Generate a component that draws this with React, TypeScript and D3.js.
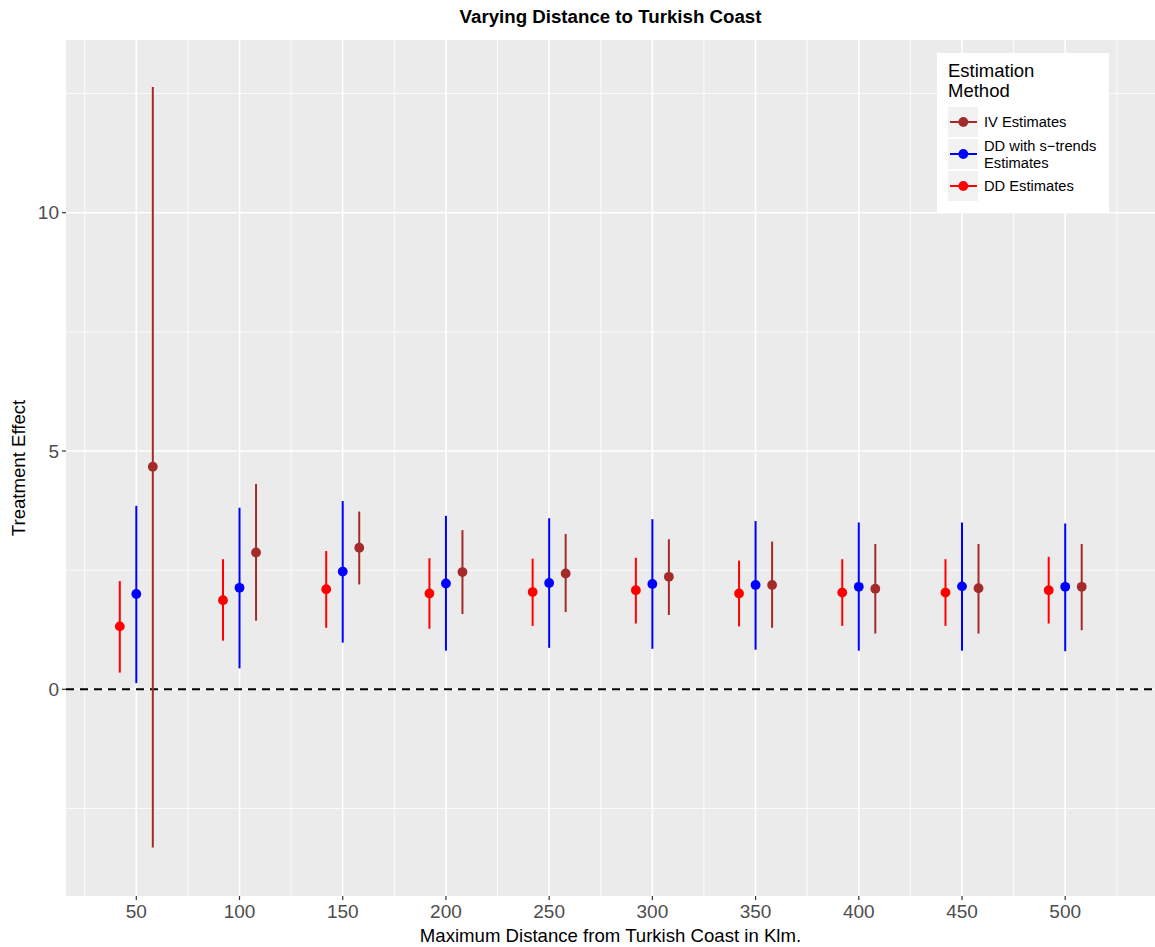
import React from "react";
import * as d3 from "d3";

const distances = [50, 100, 150, 200, 250, 300, 350, 400, 450, 500];
const ddEst = [1.32, 1.87, 2.1, 2.01, 2.04, 2.08, 2.01, 2.03, 2.03, 2.08];
const ddLo = [0.35, 1.02, 1.29, 1.27, 1.33, 1.38, 1.32, 1.33, 1.33, 1.38];
const ddHi = [2.27, 2.73, 2.9, 2.75, 2.74, 2.76, 2.7, 2.73, 2.73, 2.78];
const stEst = [2.0, 2.13, 2.47, 2.22, 2.23, 2.21, 2.19, 2.15, 2.16, 2.15];
const stLo = [0.13, 0.44, 0.98, 0.81, 0.87, 0.85, 0.83, 0.81, 0.81, 0.8];
const stHi = [3.85, 3.81, 3.95, 3.64, 3.59, 3.57, 3.53, 3.5, 3.5, 3.48];
const ivEst = [4.67, 2.87, 2.97, 2.46, 2.43, 2.36, 2.19, 2.11, 2.12, 2.15];
const ivLo = [-3.32, 1.44, 2.2, 1.58, 1.62, 1.56, 1.29, 1.17, 1.17, 1.24];
const ivHi = [12.64, 4.31, 3.73, 3.34, 3.26, 3.15, 3.1, 3.05, 3.05, 3.05];

const xMajor = [50, 100, 150, 200, 250, 300, 350, 400, 450, 500];
const xMinor = [25, 75, 125, 175, 225, 275, 325, 375, 425, 475, 525];
const yMajor = [0, 5, 10];
const yMinor = [-2.5, 2.5, 7.5, 12.5];

const series = [
  { name: "DD Estimates", color: "#FF0000", offset: -8, est: ddEst, lo: ddLo, hi: ddHi },
  { name: "DD with s\u2212trends Estimates", color: "#0000FF", offset: 0, est: stEst, lo: stLo, hi: stHi },
  { name: "IV Estimates", color: "#A52A2A", offset: 8, est: ivEst, lo: ivLo, hi: ivHi },
];

const legendItems = [
  { lines: ["IV Estimates"], color: "#A52A2A" },
  { lines: ["DD with s\u2212trends", "Estimates"], color: "#0000FF" },
  { lines: ["DD Estimates"], color: "#FF0000" },
];

const W = 1155;
const H = 947;
const PL = 66, PR = 1155, PT = 40, PB = 896;
const FONT = "'Liberation Sans', Arial, Helvetica, sans-serif";

export default function App() {
  const x = d3.scaleLinear().domain([15.94, 543.5]).range([PL, PR]);
  const y = d3.scaleLinear().domain([-4.337, 13.624]).range([PB, PT]);

  return (
    <svg width={W} height={H} style={{ position: "absolute", left: 0, top: 0, background: "#fff" }} fontFamily={FONT}>
      <rect x={PL} y={PT} width={PR - PL} height={PB - PT} fill="#EBEBEB" />
      {yMinor.map((v) => (
        <line key={"ym" + v} x1={PL} x2={PR} y1={y(v)} y2={y(v)} stroke="#fff" strokeWidth={0.8} />
      ))}
      {xMinor.map((v) => (
        <line key={"xm" + v} y1={PT} y2={PB} x1={x(v)} x2={x(v)} stroke="#fff" strokeWidth={0.8} />
      ))}
      {yMajor.map((v) => (
        <line key={"yM" + v} x1={PL} x2={PR} y1={y(v)} y2={y(v)} stroke="#fff" strokeWidth={1.6} />
      ))}
      {xMajor.map((v) => (
        <line key={"xM" + v} y1={PT} y2={PB} x1={x(v)} x2={x(v)} stroke="#fff" strokeWidth={1.6} />
      ))}
      <line x1={PL} x2={PR} y1={y(0)} y2={y(0)} stroke="#000" strokeWidth={1.9} strokeDasharray="8,6" />

      {series.map((s) =>
        distances.map((d, i) => (
          <g key={s.name + d}>
            <line x1={x(d + s.offset)} x2={x(d + s.offset)} y1={y(s.lo[i])} y2={y(s.hi[i])} stroke={s.color} strokeWidth={2} />
            <circle cx={x(d + s.offset)} cy={y(s.est[i])} r={4.9} fill={s.color} />
          </g>
        ))
      )}

      {xMajor.map((v) => (
        <g key={"xt" + v}>
          <line x1={x(v)} x2={x(v)} y1={PB} y2={PB + 4} stroke="#333" strokeWidth={1.2} />
          <text x={x(v)} y={PB + 22.3} textAnchor="middle" fontSize={19} fill="#4D4D4D">{v}</text>
        </g>
      ))}
      {yMajor.map((v) => (
        <g key={"yt" + v}>
          <line x1={PL - 4} x2={PL} y1={y(v)} y2={y(v)} stroke="#333" strokeWidth={1.2} />
          <text x={PL - 7} y={y(v) + 6.7} textAnchor="end" fontSize={19} fill="#4D4D4D">{v}</text>
        </g>
      ))}

      <text x={(PL + PR) / 2} y={23} textAnchor="middle" fontSize={18.7} fontWeight="bold" fill="#000">
        Varying Distance to Turkish Coast
      </text>
      <text x={(PL + PR) / 2} y={941.5} textAnchor="middle" fontSize={18.6} fill="#000">
        Maximum Distance from Turkish Coast in Klm.
      </text>
      <text transform={`translate(25,${(PT + PB) / 2}) rotate(-90)`} textAnchor="middle" fontSize={18.6} fill="#000">
        Treatment Effect
      </text>

      <rect x={937} y={53} width={172} height={159} fill="#fff" />
      <text x={948} y={77} fontSize={18.5} fill="#000">Estimation</text>
      <text x={948} y={97} fontSize={18.5} fill="#000">Method</text>
      {legendItems.map((it, i) => {
        const top = [107, 139, 171][i];
        const cy = top + 15;
        return (
          <g key={"lg" + i}>
            <rect x={948} y={top} width={30} height={30} fill="#F2F2F2" />
            <line x1={950} x2={977} y1={cy} y2={cy} stroke={it.color} strokeWidth={2} />
            <circle cx={963.3} cy={cy} r={4.9} fill={it.color} />
            {it.lines.map((ln, j) => (
              <text key={j} x={984} y={it.lines.length === 1 ? cy + 5.3 : cy - 3.5 + j * 17} fontSize={14.7} fill="#000">
                {ln}
              </text>
            ))}
          </g>
        );
      })}
    </svg>
  );
}
